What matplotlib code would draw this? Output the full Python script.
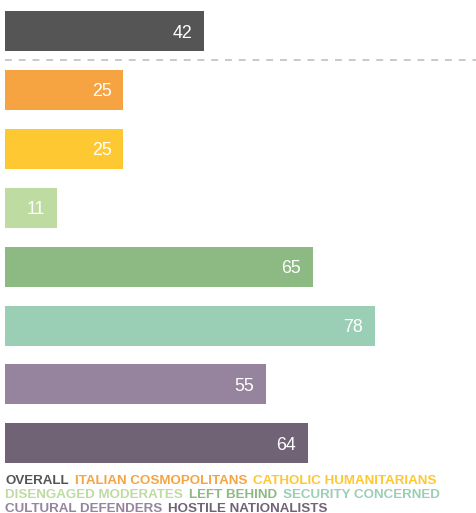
import matplotlib
matplotlib.use("Agg")
import matplotlib.pyplot as plt
from matplotlib.transforms import offset_copy

categories = ["OVERALL", "ITALIAN COSMOPOLITANS", "CATHOLIC HUMANITARIANS",
              "DISENGAGED MODERATES", "LEFT BEHIND", "SECURITY CONCERNED",
              "CULTURAL DEFENDERS", "HOSTILE NATIONALISTS"]
values = [42, 25, 25, 11, 65, 78, 55, 64]
colors = ["#555555", "#f6a342", "#fdc832", "#bedba1", "#8db982",
          "#9bcfb5", "#96849e", "#716376"]
legend_rows = [[0, 1, 2], [3, 4, 5], [6, 7]]

FONT = ["Liberation Sans", "Arial", "DejaVu Sans"]

W, H, DPI = 476, 513, 100
fig = plt.figure(figsize=(W / DPI, H / DPI), dpi=DPI)
fig.patch.set_facecolor("white")

px_per_unit = 199 / 42.0
left_px = 5
pitch = 58.9
first_center = 31
ax = fig.add_axes([left_px / W, 0, 1 - left_px / W, 1])
ax.set_xlim(0, (W - left_px) / px_per_unit)
ax.set_ylim((H - first_center) / pitch, -first_center / pitch)
ax.axis("off")

ypos = list(range(len(values)))
ax.barh(ypos, values, height=40 / pitch, color=colors, left=0)

for y, v in zip(ypos, values):
    t = offset_copy(ax.transData, fig=fig, x=-12, y=0, units="dots")
    ax.text(v, y, str(v), transform=t, ha="right", va="center_baseline",
            color="white", fontsize=12.8, family=FONT)

# dashed separator between overall and segments
ax.plot([0, (W - left_px) / px_per_unit], [(60 - first_center) / pitch] * 2,
        color="#bbbbbb", lw=1.1, dashes=(4.5, 4.5), clip_on=False)

# legend of coloured words
fig.canvas.draw()
renderer = fig.canvas.get_renderer()
baselines = [484, 498.5, 511.5]
gap = 6
for row, base in zip(legend_rows, baselines):
    x = 5
    for i in row:
        txt = fig.text(x / W, 1 - base / H, categories[i], color=colors[i],
                       fontsize=9.6, fontweight="bold", family=FONT,
                       ha="left", va="baseline")
        bb = txt.get_window_extent(renderer)
        x += bb.width + gap

fig.savefig("out.png", dpi=DPI, facecolor="white")
